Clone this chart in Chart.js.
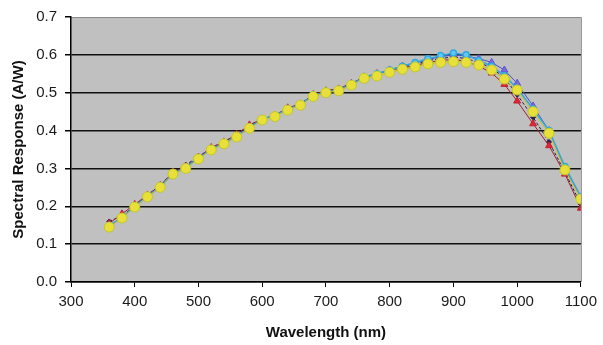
<!DOCTYPE html>
<html>
<head>
<meta charset="utf-8">
<script src="https://cdn.jsdelivr.net/npm/chart.js@4/dist/chart.umd.min.js"></script>
<style>
  html, body { margin: 0; padding: 0; background: #fff; }
  #wrap { width: 603px; height: 345px; }
</style>
</head>
<body>
<div id="wrap"><canvas id="myChart" width="603" height="345"></canvas></div>
<script>
const wavelengths = [360, 380, 400, 420, 440, 460, 480, 500, 520, 540, 560, 580, 600, 620, 640, 660, 680, 700, 720, 740,
  760, 780, 800, 820, 840, 860, 880, 900, 920, 940, 960, 980, 1000, 1025, 1050, 1075, 1100];

const darkSeries = [0.16, 0.175, 0.2, 0.23, 0.255, 0.29, 0.31, 0.33, 0.355, 0.37, 0.39, 0.415, 0.43, 0.44, 0.46, 0.47, 0.495, 0.505, 0.51, 0.525,
  0.54, 0.55, 0.56, 0.568, 0.575, 0.585, 0.59, 0.595, 0.59, 0.58, 0.565, 0.54, 0.495, 0.435, 0.37, 0.29, 0.205];
const redSeries = [0.155, 0.18, 0.205, 0.23, 0.255, 0.29, 0.305, 0.33, 0.355, 0.37, 0.39, 0.415, 0.43, 0.44, 0.46, 0.47, 0.495, 0.505, 0.51, 0.525,
  0.54, 0.55, 0.56, 0.565, 0.572, 0.58, 0.585, 0.588, 0.583, 0.57, 0.552, 0.522, 0.478, 0.418, 0.36, 0.285, 0.195];
const purpleSeries = [0.15, 0.17, 0.2, 0.228, 0.252, 0.287, 0.303, 0.328, 0.352, 0.367, 0.386, 0.41, 0.43, 0.44, 0.457, 0.47, 0.493, 0.503, 0.508, 0.524,
  0.542, 0.55, 0.56, 0.57, 0.578, 0.588, 0.595, 0.6, 0.597, 0.59, 0.58, 0.56, 0.525, 0.465, 0.4, 0.3, 0.225];
const cyanSeries = [0.148, 0.17, 0.199, 0.226, 0.251, 0.286, 0.302, 0.327, 0.35, 0.366, 0.385, 0.408, 0.43, 0.44, 0.456, 0.469, 0.492, 0.502, 0.507, 0.522,
  0.54, 0.55, 0.56, 0.57, 0.58, 0.59, 0.598, 0.605, 0.6, 0.585, 0.57, 0.545, 0.512, 0.457, 0.4, 0.305, 0.225];
const yellowSeries = [0.145, 0.169, 0.198, 0.225, 0.25, 0.285, 0.3, 0.325, 0.349, 0.365, 0.383, 0.406, 0.428, 0.437, 0.454, 0.467, 0.49, 0.5, 0.505, 0.52,
  0.538, 0.544, 0.554, 0.562, 0.568, 0.576, 0.58, 0.582, 0.58, 0.573, 0.56, 0.536, 0.507, 0.45, 0.393, 0.296, 0.219];

const xTicks = [300, 400, 500, 600, 700, 800, 900, 1000, 1100];
const yTicks = [0, 0.1, 0.2, 0.3, 0.4, 0.5, 0.6, 0.7];

const toPoints = (vals) => vals.map((v, i) => ({ x: wavelengths[i], y: v }));

// grey plot background and grey frame on top/right
const plotBg = {
  id: "plotBg",
  beforeDraw(chart) {
    const { ctx, chartArea: a } = chart;
    ctx.save();
    ctx.fillStyle = "#c0c0c0";
    ctx.fillRect(a.left, a.top, a.right - a.left, a.bottom - a.top);
    ctx.strokeStyle = "#8a8a8a";
    ctx.lineWidth = 1;
    ctx.beginPath();
    ctx.moveTo(a.left, a.top + 0.5);
    ctx.lineTo(a.right + 0.5, a.top + 0.5);
    ctx.lineTo(a.right + 0.5, a.bottom);
    ctx.stroke();
    ctx.restore();
  },
};

const tickFont = { family: "'Liberation Sans', Arial, sans-serif", size: 15 };
const titleFont = { family: "'Liberation Sans', Arial, sans-serif", size: 15, weight: "bold" };

new Chart("myChart", {
  type: "line",
  data: {
    datasets: [
      {
        label: "Dark",
        order: 4,
        data: toPoints(darkSeries),
        borderColor: "#202040",
        borderWidth: 1,
        borderDash: [3, 2],
        pointStyle: "rectRot",
        pointRadius: 2.5,
        pointBackgroundColor: "#202050",
        pointBorderColor: "#202050",
      },
      {
        label: "Red",
        order: 3,
        data: toPoints(redSeries),
        borderColor: "#a02030",
        borderWidth: 1,
        pointStyle: "triangle",
        pointRadius: 4,
        pointBackgroundColor: "#e02830",
        pointBorderColor: "#c02030",
      },
      {
        label: "Purple",
        order: 2,
        data: toPoints(purpleSeries),
        borderColor: "#5050c0",
        borderWidth: 1,
        pointStyle: "triangle",
        pointRadius: 4,
        pointBackgroundColor: "#7a6ae0",
        pointBorderColor: "#6050d0",
      },
      {
        label: "Cyan",
        order: 1,
        data: toPoints(cyanSeries),
        borderColor: "#30a8e0",
        borderWidth: 1.5,
        pointStyle: "circle",
        pointRadius: 3,
        pointBackgroundColor: "#60c8f0",
        pointBorderColor: "#30a8e0",
      },
      {
        label: "Yellow",
        order: 0,
        data: toPoints(yellowSeries),
        borderColor: "#c8c020",
        borderWidth: 1,
        pointStyle: "circle",
        pointRadius: 5,
        pointBackgroundColor: "#e8e038",
        pointBorderColor: "#c0c828",
      },
    ],
  },
  options: {
    responsive: false,
    animation: false,
    layout: { padding: { top: 17, right: 19, left: 0, bottom: 0 } },
    plugins: {
      legend: { display: false },
      tooltip: { enabled: false },
    },
    scales: {
      x: {
        type: "linear",
        min: 300,
        max: 1100,
        afterBuildTicks: (scale) => {
          scale.ticks = xTicks.map((v) => ({ value: v }));
        },
        afterFit: (scale) => {
          scale.height = 63;
        },
        border: { display: true, color: "#000", width: 1.5 },
        grid: { drawOnChartArea: false, drawTicks: true, tickLength: 5, tickColor: "#000" },
        ticks: { font: tickFont, color: "#1a1a1a", padding: 6, maxRotation: 0, callback: (v) => String(v) },
        title: {
          display: true,
          text: "Wavelength (nm)",
          font: titleFont,
          color: "#111",
          padding: { top: 0, bottom: 3 },
        },
      },
      y: {
        type: "linear",
        min: 0,
        max: 0.7,
        afterBuildTicks: (scale) => {
          scale.ticks = yTicks.map((v) => ({ value: v }));
        },
        afterFit: (scale) => {
          scale.width = 71;
        },
        border: { display: true, color: "#000", width: 1.5 },
        grid: {
          color: (c) => (c.tick && c.tick.value >= 0.7 ? "rgba(0,0,0,0)" : "#111"),
          lineWidth: 1.5,
          tickLength: 6,
          tickColor: "#000",
        },
        ticks: {
          font: tickFont,
          color: "#1a1a1a",
          padding: 8,
          callback: (v) => Number(v).toFixed(1),
        },
        title: {
          display: true,
          text: "Spectral Response (A/W)",
          font: titleFont,
          color: "#111",
          padding: { top: 10, bottom: 0 },
        },
      },
    },
  },
  plugins: [plotBg],
});
</script>
</body>
</html>
